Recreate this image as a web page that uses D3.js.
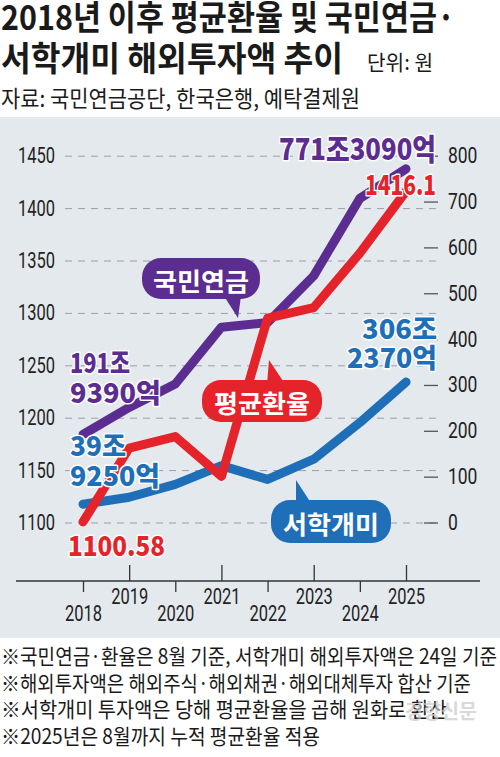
<!DOCTYPE html>
<html>
<head>
<meta charset="utf-8">
<script src="https://cdn.jsdelivr.net/npm/d3@7"></script>
<style>
  body { margin: 0; background: #fff; }
  svg { display: block; }
</style>
</head>
<body>
<div id="chart"></div>
<script>
// years on the x axis
var years = [2018, 2019, 2020, 2021, 2022, 2023, 2024, 2025];
// average exchange rate, won per dollar (left axis)
var fxRate = [1100.58, 1171, 1182, 1144, 1295, 1305, 1357, 1416.1];
// NPS overseas investment, trillion won (right axis)
var npsOverseas = [191.939, 251, 302, 426, 436, 538, 707, 771.309];
// retail investors' overseas investment, trillion won (right axis)
var retailOverseas = [39.925, 55, 83, 124, 94, 138, 218, 306.237];

var leftTicks = [1100, 1150, 1200, 1250, 1300, 1350, 1400, 1450];
var rightTicks = [0, 100, 200, 300, 400, 500, 600, 700, 800];

var footnotes = [
  "※국민연금·환율은 8월 기준, 서학개미 해외투자액은 24일 기준",
  "※해외투자액은 해외주식·해외채권·해외대체투자 합산 기준",
  "※서학개미 투자액은 당해 평균환율을 곱해 원화로 환산",
  "※2025년은 8월까지 누적 평균환율 적용"
];

var width = 500, height = 757;
var purple = "#5c2d91", red = "#e5232b", blue = "#1e6fb8";
var kr = "'Noto Sans CJK KR', 'Noto Sans', sans-serif";
var num = "Roboto, 'Liberation Sans', sans-serif";

var svg = d3.select("#chart").append("svg")
  .attr("width", width)
  .attr("height", height);

// text helper: squeeze text to a measured width (the original fonts are condensed)
function txt(g, s, x, y, opt) {
  var t = g.append("text")
    .attr("x", x).attr("y", y)
    .attr("font-family", opt.font || kr)
    .attr("font-size", opt.size)
    .attr("font-weight", opt.weight || 400)
    .attr("fill", opt.fill || "#1a1a1a")
    .attr("text-anchor", opt.anchor || "start")
    .text(s);
  if (opt.len) t.attr("textLength", opt.len).attr("lengthAdjust", "spacingAndGlyphs");
  if (opt.halo) t.attr("stroke", "#fff").attr("stroke-width", opt.halo)
    .attr("stroke-linejoin", "round").attr("paint-order", "stroke");
  if (opt.baseline) t.attr("dominant-baseline", opt.baseline);
  return t;
}

// title block
txt(svg, "2018년 이후 평균환율 및 국민연금·", 1, 30, { size: 34, weight: 700, len: 454 });
txt(svg, "서학개미 해외투자액 추이", 1, 71, { size: 34, weight: 700, len: 342 });
txt(svg, "단위: 원", 367, 70, { size: 21, len: 66 });
txt(svg, "자료: 국민연금공단, 한국은행, 예탁결제원", 1, 107, { size: 23, len: 359 });

// chart panel
svg.append("rect")
  .attr("x", 0).attr("y", 117)
  .attr("width", width).attr("height", 521)
  .attr("fill", "#e4e9ed");

// scales
var x = d3.scalePoint().domain(years).range([83, 406]);
var yL = d3.scaleLinear().domain([1100, 1450]).range([522.5, 155.7]);
var yR = d3.scaleLinear().domain([0, 800]).range([522.5, 155.7]);

// dashed gridlines from left axis
var grid = svg.append("g")
  .attr("transform", "translate(65,0)")
  .call(d3.axisRight(yL).tickValues(leftTicks).tickSize(374).tickFormat(""));
grid.select(".domain").remove();
grid.selectAll("line")
  .attr("stroke", "#98a1a7")
  .attr("stroke-width", 1)
  .attr("stroke-dasharray", "7,6");

// left axis labels
var leftAx = svg.append("g")
  .attr("transform", "translate(55,0)")
  .call(d3.axisLeft(yL).tickValues(leftTicks).tickSize(0).tickPadding(0)
    .tickFormat(d3.format("d")));
leftAx.select(".domain").remove();
leftAx.selectAll("text")
  .attr("font-family", num).attr("font-size", 22).attr("fill", "#222")
  .attr("textLength", 37).attr("lengthAdjust", "spacingAndGlyphs");

// right axis: short solid dashes + labels
var rightAx = svg.append("g")
  .attr("transform", "translate(424,0)")
  .call(d3.axisRight(yR).tickValues(rightTicks).tickSize(14).tickPadding(10)
    .tickFormat(d3.format("d")));
rightAx.select(".domain").remove();
rightAx.selectAll("line").attr("stroke", "#555").attr("stroke-width", 1.3);
rightAx.selectAll("text")
  .attr("font-family", num).attr("font-size", 22).attr("fill", "#222")
  .each(function(d) {
    d3.select(this).attr("textLength", String(d).length * 9.8)
      .attr("lengthAdjust", "spacingAndGlyphs");
  });

// x axis with alternating ticks
svg.append("line")
  .attr("x1", 16).attr("x2", 480)
  .attr("y1", 581).attr("y2", 581)
  .attr("stroke", "#333").attr("stroke-width", 1.6);
var xAx = svg.append("g")
  .attr("transform", "translate(0,581)")
  .call(d3.axisBottom(x).tickSize(0).tickFormat(d3.format("d")));
xAx.select(".domain").remove();
xAx.selectAll(".tick").each(function(d, i) {
  var up = i % 2 === 1;
  d3.select(this).select("line")
    .attr("y1", 0).attr("y2", up ? -16 : 11)
    .attr("stroke", "#333").attr("stroke-width", 1.3);
  d3.select(this).select("text")
    .attr("dy", null)
    .attr("y", up ? 23 : 40)
    .attr("font-family", num).attr("font-size", 22).attr("fill", "#222")
    .attr("textLength", 37).attr("lengthAdjust", "spacingAndGlyphs");
});

// lines
function drawLine(vals, scale, color) {
  var line = d3.line()
    .x(function(d, i) { return x(years[i]); })
    .y(function(d) { return scale(d); });
  svg.append("path")
    .datum(vals)
    .attr("d", line)
    .attr("fill", "none")
    .attr("stroke", color)
    .attr("stroke-width", 9)
    .attr("stroke-linecap", "round")
    .attr("stroke-linejoin", "round");
}
drawLine(retailOverseas, yR, blue);
drawLine(npsOverseas, yR, purple);
drawLine(fxRate, yL, red);

// callout bubbles
function bubble(label, bx, by, bw, bh, tail, color) {
  var g = svg.append("g");
  g.append("polygon").attr("points", tail.join(" ")).attr("fill", color);
  g.append("rect")
    .attr("x", bx).attr("y", by)
    .attr("width", bw).attr("height", bh)
    .attr("rx", 19).attr("fill", color);
  txt(g, label, bx + bw / 2, by + bh / 2 + 1, {
    size: 25, weight: 700, fill: "#fff", anchor: "middle", len: 96, baseline: "central"
  });
}
bubble("국민연금", 142, 258, 118, 41, [[224, 296], [241, 296], [238, 318]], purple);
bubble("평균환율", 202, 380, 120, 42, [[267, 384], [285, 384], [269, 360]], red);
bubble("서학개미", 271, 500, 120, 43, [[296, 503], [311, 503], [296, 480]], blue);

// value labels
function valueLabel(s, xx, yy, color, len, anchor, size) {
  txt(svg, s, xx, yy, { size: size || 27, weight: 900, halo: 3, fill: color, len: len, anchor: anchor });
}
valueLabel("771조3090억", 436, 160, purple, 157, "end", 30);
valueLabel("1416.1", 436, 195, red, 71, "end");
valueLabel("306조", 437, 339, blue, 75, "end");
valueLabel("2370억", 437, 368, blue, 90, "end");
valueLabel("191조", 70, 373, purple, 60, "start");
valueLabel("9390억", 70, 403, purple, 91, "start");
valueLabel("39조", 70, 456, blue, 56, "start");
valueLabel("9250억", 70, 486, blue, 90, "start");
valueLabel("1100.58", 68, 556, red, 97, "start");

// footnotes
var fnLen = [496, 470, 446, 319];
footnotes.forEach(function(s, i) {
  txt(svg, s, 1, 664 + i * 26.5, { size: 21, len: fnLen[i], fill: "#1a1a1a" });
});

// faint watermark
txt(svg, "경향신문", 405, 719, { size: 20, weight: 700, fill: "#c9c9c9", len: 72 })
  .attr("opacity", 0.7);
</script>
</body>
</html>
